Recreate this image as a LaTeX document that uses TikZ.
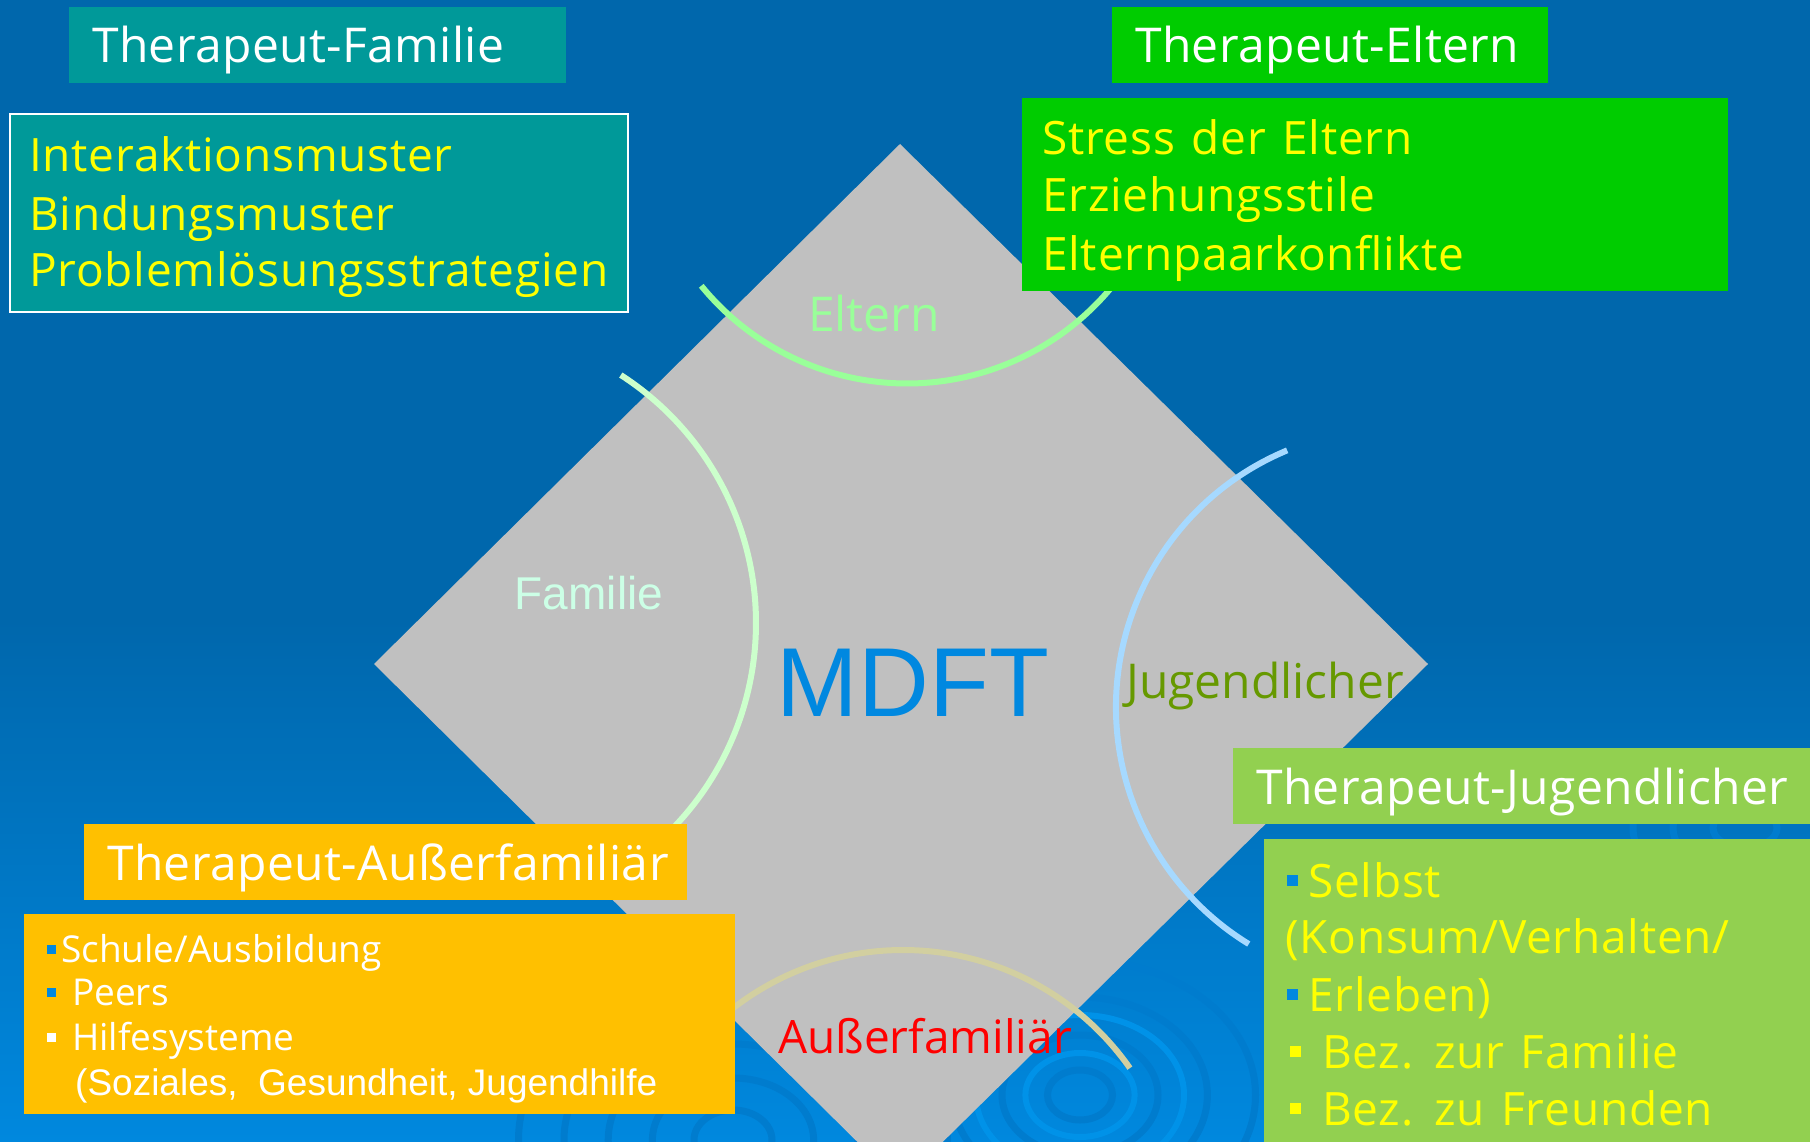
\documentclass[tikz,border=0pt]{standalone}
\usepackage{fontspec}
\usetikzlibrary{calc}
\setmainfont{Open Sans}
\newfontfamily\arialf{Liberation Sans}
\newfontfamily\cntfont[LetterSpace=1.7,WordSpace=1.3]{Open Sans}
\newfontfamily\ttlfont[LetterSpace=0.8]{Open Sans}
\definecolor{bgtop}{RGB}{0,103,172}
\definecolor{bgbot}{RGB}{0,136,222}
\definecolor{ripc}{RGB}{0,124,206}
\definecolor{ripl}{RGB}{0,146,232}
\definecolor{dgray}{RGB}{192,192,192}
\definecolor{tealc}{RGB}{0,153,153}
\definecolor{greenc}{RGB}{0,204,0}
\definecolor{lgreenc}{RGB}{146,208,80}
\definecolor{orangec}{RGB}{255,192,0}
\definecolor{yellowc}{RGB}{255,255,0}
\definecolor{elternc}{RGB}{153,255,153}
\definecolor{familiec}{RGB}{204,255,230}
\definecolor{famarc}{RGB}{204,255,204}
\definecolor{jugarc}{RGB}{166,217,255}
\definecolor{ausarc}{RGB}{210,207,160}
\definecolor{mdftc}{RGB}{0,136,224}
\definecolor{jugc}{RGB}{102,153,0}
\definecolor{bulletblue}{RGB}{0,136,224}
\tikzset{
  ttl/.style={font=\ttlfont\fontsize{48}{58}\selectfont, text=white, anchor=base west, inner sep=0},
  cnt/.style={font=\cntfont\fontsize{46}{56}\selectfont, text=yellowc, anchor=base west, inner sep=0},
  sml/.style={font=\fontsize{37}{44}\selectfont, text=white, anchor=base west, inner sep=0},
  panel/.style={rectangle, anchor=north west, inner sep=0, outer sep=0},
  sq/.style={rectangle, inner sep=0, minimum size=9},
  bigsq/.style={rectangle, inner sep=0, minimum size=11},
  arcline/.style={line width=6},
  ripple/.style={draw=ripc, line width=7},
  ripplel/.style={draw=ripl, line width=6},
  lbl/.style={font=\fontsize{48}{58}\selectfont, anchor=base, inner sep=0},
}
\begin{document}
\begin{tikzpicture}[x=1pt,y=-1pt]
\useasboundingbox (0,0) rectangle (1810,1142);
\clip (0,0) rectangle (1810,1142);
% background
\fill[bgtop] (0,0) rectangle (1810,620);
\shade[top color=bgtop, bottom color=bgbot] (0,619) rectangle (1810,1142);
% faint ripples in the background
\coordinate (r1) at (1080,1095);
\coordinate (r2) at (733,1140);
\coordinate (r3) at (1745,828);
\foreach \rr in {25,60,98,135}{\draw[ripple] (r1) ellipse[x radius=1.3*\rr, y radius=\rr];}
\foreach \rr in {42,80}{\draw[ripplel] (r1) ellipse[x radius=1.3*\rr, y radius=\rr];}
\foreach \rr in {30,62,96,130,165}{\draw[ripple] (r2) ellipse[x radius=1.3*\rr, y radius=\rr];}
\foreach \rr in {20,45,70}{\draw[ripple] (r3) ellipse[x radius=1.6*\rr, y radius=\rr];}
% diamond
\fill[dgray] (900,144) -- (1428,664) -- (900,1184) -- (374,664) -- cycle;
% arcs
\coordinate (ce) at (907,118);
\coordinate (cf) at (461,623);
\coordinate (cj) at (1394,707);
\coordinate (ca) at (903,1227);
\draw[arcline, elternc] ($(ce)+(140.8:265.5)$) arc[start angle=140.8, end angle=39.6, radius=265.5];
\draw[arcline, famarc] ($(cf)+(-57.2:295)$) arc[start angle=-57.2, end angle=50, radius=295];
\draw[arcline, jugarc] ($(cj)+(247.4:278)$) arc[start angle=247.4, end angle=121.5, radius=278];
\draw[arcline, ausarc] ($(ca)+(-145:277)$) arc[start angle=-145, end angle=-35, radius=277];
% labels
\node[lbl, text=elternc] (leltern) at (874,331) {Eltern};
\node[lbl, text=familiec, font=\arialf\fontsize{46}{54}\selectfont] (lfamilie) at (589,609) {Familie};
\node[lbl, text=mdftc, font=\arialf\fontsize{98}{110}\selectfont] (lmdft) at (913,716) {MDFT};
\node[lbl, text=jugc] (ljug) at (1265,698) {Jugendlicher};
\node[lbl, text=red, font=\fontsize{46}{56}\selectfont] (laus) at (925,1053) {Außerfamiliär};
% Therapeut-Familie
\node[panel, fill=tealc, minimum width=497, minimum height=76] (tfbox) at (69,7) {};
\node[ttl] (tft) at (92,63) {Therapeut-Familie};
\node[panel, fill=tealc, draw=white, line width=2, minimum width=618, minimum height=198] (fbox) at (10,114) {};
\node[cnt] (f1) at (29,172) {Interaktionsmuster};
\node[cnt] (f2) at (29,230) {Bindungsmuster};
\node[cnt] (f3) at (29,287) {Problemlösungsstrategien};
% Therapeut-Eltern
\node[panel, fill=greenc, minimum width=436, minimum height=76] (tebox) at (1112,7) {};
\node[ttl] (tet) at (1135,63) {Therapeut-Eltern};
\node[panel, fill=greenc, minimum width=706, minimum height=193] (ebox) at (1022,98) {};
\node[cnt] (e1) at (1042,155) {Stress der Eltern};
\node[cnt] (e2) at (1042,212) {Erziehungsstile};
\node[cnt] (e3) at (1042,270) {Elternpaarkonflikte};
% Therapeut-Jugendlicher
\node[panel, fill=lgreenc, minimum width=577, minimum height=76] (tjbox) at (1233,748) {};
\node[ttl] (tjt) at (1256,804) {Therapeut-Jugendlicher};
\node[panel, fill=lgreenc, minimum width=546, minimum height=303] (jbox) at (1264,839) {};
\node[bigsq, fill=bulletblue] (jb1) at (1292,880) {};
\node[cnt] (j1) at (1308,897) {Selbst};
\node[cnt] (j2) at (1285,953) {(Konsum/Verhalten/};
\node[bigsq, fill=bulletblue] (jb3) at (1292,994) {};
\node[cnt] (j3) at (1308,1011) {Erleben)};
\node[bigsq, fill=yellowc] (jb4) at (1295,1051) {};
\node[cnt] (j4) at (1322,1068) {Bez. zur Familie};
\node[bigsq, fill=yellowc] (jb5) at (1295,1108) {};
\node[cnt] (j5) at (1322,1125) {Bez. zu Freunden};
% Therapeut-Außerfamiliär
\node[panel, fill=orangec, minimum width=603, minimum height=76] (tabox) at (84,824) {};
\node[ttl] (tat) at (107,880) {Therapeut-Außerfamiliär};
\node[panel, fill=orangec, minimum width=711, minimum height=200] (abox) at (24,914) {};
\node[sq, fill=bulletblue] (ab1) at (51,949) {};
\node[sml] (a1) at (61,962) {Schule/Ausbildung};
\node[sq, fill=bulletblue] (ab2) at (51,992) {};
\node[sml] (a2) at (72,1005) {Peers};
\node[sq, fill=white] (ab3) at (51,1037) {};
\node[sml] (a3) at (72,1050) {Hilfesysteme};
\node[sml, font=\arialf\fontsize{37}{44}\selectfont] (a4) at (75,1095) {(Soziales,\ \ Gesundheit, Jugendhilfe};
\end{tikzpicture}
\end{document}
